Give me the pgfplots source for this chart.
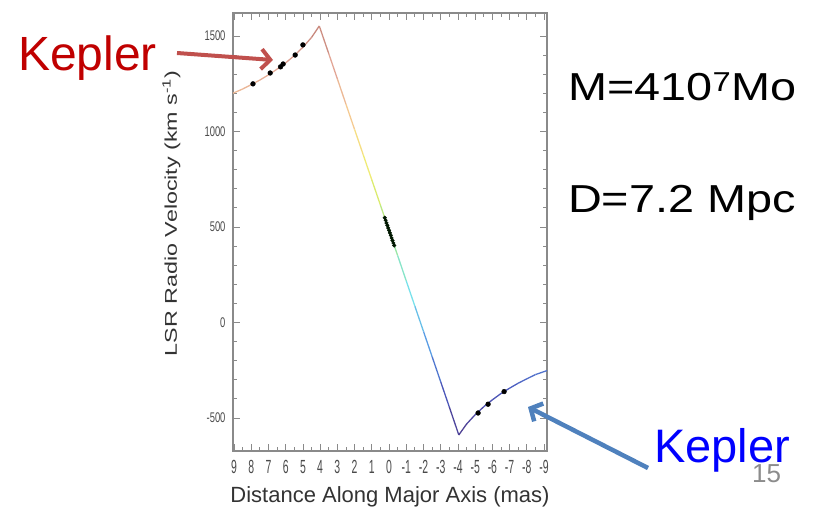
\documentclass[border=0pt]{standalone}
\usepackage{fontspec}
\setmainfont{Liberation Sans}
\newfontfamily\ticky[FakeStretch=0.67]{Liberation Sans}
\newfontfamily\tickx[FakeStretch=0.55]{Liberation Sans}
\newfontfamily\ylabfont[FakeStretch=1.37]{Liberation Sans}
\newfontfamily\widefont[FakeStretch=1.2]{Liberation Sans}
\usepackage{pgfplots}
\pgfplotsset{compat=1.18}
\usetikzlibrary{arrows.meta}
\definecolor{kepred}{HTML}{C00000}
\definecolor{arrred}{HTML}{C0504D}
\definecolor{arrblue}{HTML}{4F81BD}
\definecolor{axgray}{HTML}{8A8A8A}
\definecolor{labgray}{HTML}{4A4A4A}
\begin{document}
\begin{tikzpicture}
\path[use as bounding box] (0,0) rectangle (816pt,509pt);
\begin{axis}[
  at={(233pt,58pt)}, anchor=south west,
  width=314pt, height=438pt, scale only axis,
  x dir=reverse,
  xmin=-9.17, xmax=9.06,
  ymin=-673, ymax=1620,
  xtick={-9,-8,...,9},
  ytick={-500,0,500,1000,1500},
  minor x tick num=1,
  minor y tick num=4,
  tick align=inside,
  major tick length=7pt,
  minor tick length=4pt,
  axis line style={axgray, line width=1.1pt},
  every tick/.style={axgray, line width=0.8pt},
  /pgf/number format/assume math mode=true,
  /pgf/number format/1000 sep={},
  yticklabel style={font=\ticky\fontsize{14}{14}\selectfont, text=labgray, xshift=-4pt},
  xticklabel style={font=\tickx\fontsize{19}{19}\selectfont, text=labgray, yshift=-6pt},
  every axis y label/.style={at={(axis description cs:0,0.5)}, xshift=-56pt, yshift=18.5pt, rotate=90, anchor=base},
  every axis x label/.style={at={(axis description cs:0.5,0)}, yshift=-51pt, anchor=base},
  ylabel={\ylabfont\fontsize{17}{17}\selectfont\color{black!80} LSR Radio Velocity (km s\textsuperscript{-1})},
  xlabel={\fontsize{22}{22}\selectfont\color{black!80} Distance Along Major Axis (mas)},
  colormap={maser}{
    rgb255(0pt)=(80,60,140);
    rgb255(25pt)=(75,90,190);
    rgb255(50pt)=(90,160,230);
    rgb255(75pt)=(120,225,235);
    rgb255(100pt)=(150,230,170);
    rgb255(125pt)=(215,235,110);
    rgb255(145pt)=(245,235,120);
    rgb255(170pt)=(245,200,150);
    rgb255(195pt)=(225,165,150);
    rgb255(216pt)=(195,130,120)
  },
  point meta min=-600, point meta max=1560,
  clip=false,
]
% rotation curve (Keplerian + linear core + Keplerian)
\addplot[mesh, point meta=y, line width=1.3pt] coordinates {
  (9.06,1200) (8.5,1222) (8,1245) (7.5,1269) (7,1296) (6.5,1326) (6,1359)
  (5.5,1397) (5,1441) (4.5,1492) (4.05,1552)
  (3.5,1407) (3,1275) (2.5,1142) (2,1010) (1.5,878) (1,746) (0.5,614)
  (0,482) (-0.5,350) (-1,217) (-1.5,85) (-2,-47) (-2.5,-179) (-3,-311)
  (-3.5,-443) (-4.05,-589)
  (-4.5,-532) (-5,-483) (-5.5,-441) (-6,-405) (-6.5,-372) (-7,-344)
  (-7.5,-318) (-8,-295) (-8.5,-273) (-9.17,-252)
};
% high-velocity masers
\addplot[only marks, mark=*, mark size=2.4pt, black] coordinates {
  (7.9,1249) (6.9,1306) (6.3,1338) (6.15,1353) (5.45,1400) (5.0,1453)
  (-5.17,-474) (-5.75,-428) (-6.68,-362)
};
% systemic masers
\addplot[only marks, mark=*, mark size=1.8pt, black!85!green!60!black] coordinates {
  (0.25,548) (0.2,535) (0.15,521) (0.1,508) (0.05,495) (0,482)
  (-0.05,469) (-0.1,456) (-0.15,442) (-0.2,429) (-0.25,416) (-0.3,403)
};
\end{axis}
\node[anchor=base west, inner sep=0, text=kepred, font=\fontsize{48}{48}\selectfont] at (18pt,438pt) {Kepler};
\node[anchor=base west, inner sep=0, text=blue, font=\fontsize{47}{47}\selectfont] at (654pt,47pt) {Kepler};
\node[anchor=base west, inner sep=0, text=black!45, font=\fontsize{26}{26}\selectfont] at (752pt,27pt) {15};
\node[anchor=base west, inner sep=0, font=\widefont\fontsize{39}{39}\selectfont] at (568pt,408pt) {M=410\textsuperscript{7}Mo};
\node[anchor=base west, inner sep=0, font=\widefont\fontsize{39}{39}\selectfont] at (568pt,296pt) {D=7.2 Mpc};
\draw[arrred, line width=4pt, -{Straight Barb[length=9pt,width=20pt]}] (177pt,456pt) -- (273pt,449pt);
\draw[arrblue, line width=4.5pt, -{Straight Barb[length=9pt,width=20pt]}] (648pt,41pt) -- (528pt,102pt);
\end{tikzpicture}
\end{document}
